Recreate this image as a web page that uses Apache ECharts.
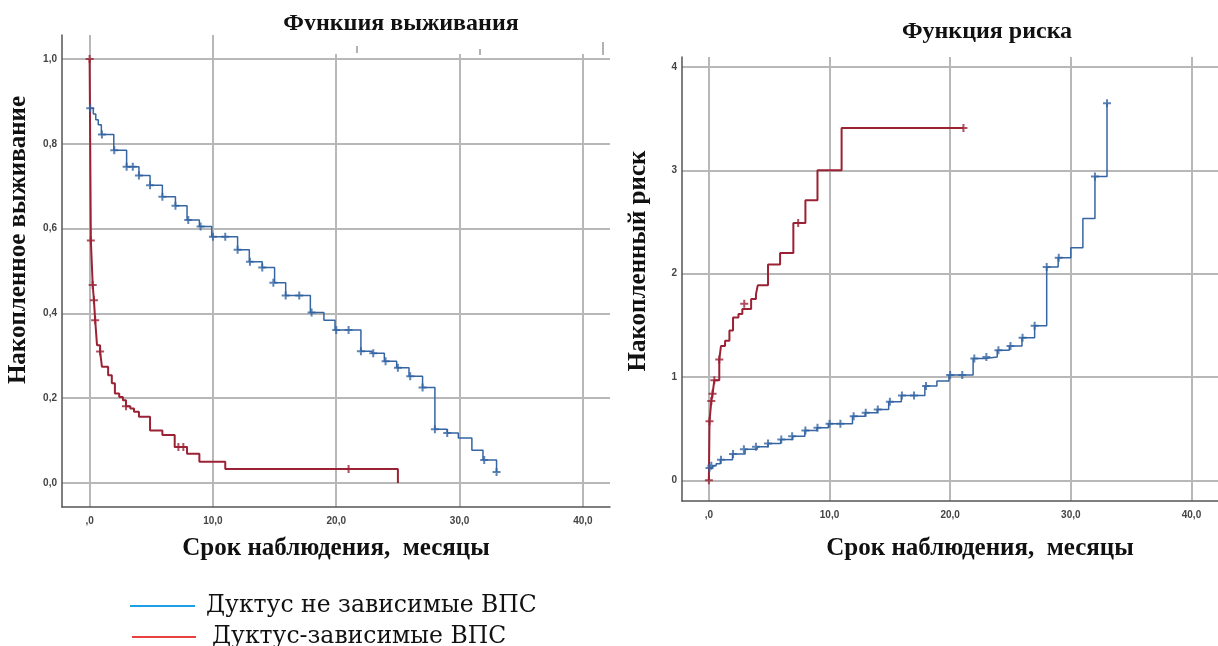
<!DOCTYPE html>
<html>
<head>
<meta charset="utf-8">
<script src="https://cdn.jsdelivr.net/npm/echarts@6/dist/echarts.min.js"></script>
<style>
html,body{margin:0;padding:0;background:#fff;}
#chart{width:1218px;height:646px;}
</style>
</head>
<body>
<div id="chart"></div>
<script>
// ---------- DATA ----------
const xTicks = [0, 10, 20, 30, 40];
const survYTicks = [0, 0.2, 0.4, 0.6, 0.8, 1.0];
const riskYTicks = [0, 1, 2, 3, 4];

const seriesNames = ['Дуктус не зависимые ВПС', 'Дуктус-зависимые ВПС'];

// Survival function: [month, cumulative survival]
const survBlue = [[0,0.884],[0.3,0.870],[0.5,0.857],[0.7,0.845],[0.95,0.822],[1.96,0.785],[3.0,0.746],[4.0,0.725],[4.9,0.702],[5.9,0.675],[6.96,0.654],[7.9,0.620],[8.9,0.605],[9.9,0.581],[12.0,0.550],[12.95,0.522],[14.0,0.508],[15.0,0.472],[15.9,0.442],[17.9,0.402],[19.0,0.384],[19.9,0.361],[22.0,0.311],[22.9,0.306],[23.9,0.287],[24.9,0.272],[25.9,0.252],[27.0,0.225],[28.0,0.127],[29.0,0.118],[29.9,0.106],[31.0,0.077],[31.9,0.054],[33.0,0.026]];
const survBlueCens = [[0.05,0.884],[1.0,0.822],[2.0,0.785],[3.0,0.746],[3.5,0.746],[4.0,0.725],[4.9,0.702],[5.9,0.675],[6.96,0.654],[8.0,0.620],[9.0,0.605],[10.0,0.581],[11.0,0.581],[12.0,0.550],[13.0,0.522],[14.0,0.508],[14.9,0.472],[15.9,0.442],[17.0,0.442],[18.0,0.402],[20.0,0.361],[21.0,0.361],[22.0,0.311],[23.0,0.306],[24.0,0.287],[25.0,0.272],[26.0,0.252],[27.0,0.225],[28.0,0.127],[29.0,0.118],[32.0,0.054],[33.0,0.026]];
const survRed = [[0,1.0],[0.1,0.572],[0.25,0.467],[0.35,0.431],[0.45,0.384],[0.6,0.325],[0.85,0.310],[1.0,0.274],[1.5,0.254],[1.8,0.235],[2.05,0.211],[2.4,0.203],[2.7,0.195],[2.95,0.181],[3.3,0.176],[3.6,0.168],[4.0,0.156],[4.9,0.124],[5.9,0.113],[6.9,0.085],[7.9,0.069],[8.9,0.050],[11.0,0.033],[25.0,0.0]];
const survRedCens = [[0,1.0],[0.1,0.572],[0.25,0.467],[0.35,0.431],[0.45,0.384],[0.85,0.310],[2.95,0.181],[7.2,0.085],[7.6,0.085],[21.0,0.033]];

// Hazard function: [month, cumulative hazard]
const riskBlue = [[0,0.12],[0.3,0.14],[0.6,0.16],[0.95,0.20],[1.96,0.256],[3.0,0.30],[4.0,0.324],[4.9,0.356],[5.95,0.395],[6.95,0.427],[7.95,0.482],[8.95,0.508],[9.9,0.547],[11.9,0.621],[12.95,0.654],[13.95,0.686],[14.9,0.761],[15.95,0.822],[17.9,0.913],[18.9,0.961],[19.9,1.019],[21.9,1.18],[22.9,1.194],[23.9,1.259],[24.9,1.30],[25.95,1.38],[27.0,1.495],[28.0,2.065],[28.95,2.155],[30.0,2.25],[31.0,2.534],[32.0,2.94],[33.0,3.65]];
const riskBlueCens = [[0.05,0.12],[0.2,0.14],[1.0,0.20],[2.0,0.256],[2.9,0.30],[3.9,0.324],[4.9,0.356],[6.0,0.395],[6.9,0.427],[8.0,0.482],[9.0,0.508],[10.0,0.547],[10.9,0.547],[12.0,0.621],[13.0,0.654],[14.0,0.686],[15.0,0.761],[16.0,0.822],[17.0,0.822],[18.0,0.913],[20.0,1.019],[21.0,1.019],[22.0,1.18],[23.0,1.194],[24.0,1.259],[25.0,1.30],[26.0,1.38],[27.0,1.495],[28.0,2.065],[29.0,2.155],[32.0,2.94],[33.0,3.65]];
const riskRed = [[0,0],[0.05,0.573],[0.2,0.767],[0.3,0.838],[0.45,0.968],[0.86,1.17],[1.0,1.30],[1.34,1.35],[1.7,1.45],[2.0,1.576],[2.45,1.61],[2.77,1.657],[3.5,1.754],[3.9,1.80],[4.05,1.887],[4.9,2.09],[5.9,2.20],[7.0,2.49],[8.0,2.71],[9.0,3.0],[11.0,3.41],[21.1,3.41]];
const riskRedCens = [[0,0],[0.05,0.573],[0.2,0.767],[0.3,0.838],[0.45,0.968],[0.86,1.17],[2.93,1.71],[7.4,2.49],[21.1,3.41]];

// ---------- STYLE ----------
const BLUE = '#3565a3';
const RED = '#9b2234';
const LEG_BLUE = '#1ea0e6';
const LEG_RED = '#e8403f';
const GRID_C = '#b8b8b8';
const AXIS_C = '#555';
const SERIF = '"Liberation Serif", "DejaVu Serif", serif';
const LEG_SERIF = '"DejaVu Serif", "Liberation Serif", serif';
const SANS = '"Liberation Sans", Arial, sans-serif';
const PLUS = 'path://M-1,-4H1V-1H4V1H1V4H-1V1H-4V-1H-1Z';

const fmtX = v => v === 0 ? ',0' : v.toFixed(1).replace('.', ',');
const fmtS = v => v.toFixed(1).replace('.', ',');
const fmtR = v => String(Math.round(v));

function xAxisDef(gridIndex, min, max, namePad) {
  return {
    type: 'value', gridIndex, min, max,
    name: 'Срок наблюдения,  месяцы', nameLocation: 'middle', nameGap: gridIndex === 0 ? 29 : 35,
    nameTextStyle: {fontFamily: SERIF, fontWeight: 'bold', fontSize: 25, color: '#111', padding: namePad},
    axisLine: {show: true, onZero: false, lineStyle: {color: AXIS_C, width: 1.5}},
    axisTick: {show: false, customValues: xTicks},
    axisLabel: {customValues: xTicks, formatter: fmtX, margin: 9, fontFamily: SANS, fontSize: 10, fontWeight: 'bold', color: '#444'},
    splitLine: {show: true, lineStyle: {color: GRID_C, width: 2}}
  };
}
function yAxisDef(gridIndex, min, max, ticks, fmt, name, gap, namePad) {
  return {
    type: 'value', gridIndex, min, max, name, nameLocation: 'middle', nameGap: gap, nameRotate: 90,
    nameTextStyle: {fontFamily: SERIF, fontWeight: 'bold', fontSize: 25, color: '#111', padding: namePad},
    axisLine: {show: true, onZero: false, lineStyle: {color: AXIS_C, width: 1.5}},
    axisTick: {show: false, customValues: ticks},
    axisLabel: {customValues: ticks, formatter: fmt, margin: 5, fontFamily: SANS, fontSize: 10, fontWeight: 'bold', color: '#444'},
    splitLine: {show: true, lineStyle: {color: GRID_C, width: 2}}
  };
}
function stepLine(name, data, color, width, xi, yi) {
  return {type: 'line', name, data, step: 'end', xAxisIndex: xi, yAxisIndex: yi, showSymbol: false,
    symbol: 'none', lineStyle: {color, width}, itemStyle: {color}, z: 3, silent: true};
}
function censMarks(name, data, color, xi, yi) {
  return {type: 'scatter', name, data, xAxisIndex: xi, yAxisIndex: yi, symbol: PLUS, symbolSize: 8,
    itemStyle: {color}, z: 4, silent: true};
}

const chart = echarts.init(document.getElementById('chart'), null, {renderer: 'canvas'});
chart.setOption({
  animation: false,
  backgroundColor: '#fff',
  title: [
    {text: 'Функция выживания', left: 396, top: 7, textAlign: 'center',
      textStyle: {fontFamily: SERIF, fontWeight: 'bold', fontSize: 24, color: '#111'}},
    {text: 'Функция риска', left: 982, top: 15, textAlign: 'center',
      textStyle: {fontFamily: SERIF, fontWeight: 'bold', fontSize: 24, color: '#111'}}
  ],
  legend: [
    {left: 125, top: 589, orient: 'vertical', icon: 'rect', itemWidth: 65, itemHeight: 2,
      data: [seriesNames[0]], selectedMode: false,
      textStyle: {fontFamily: LEG_SERIF, fontSize: 23.5, color: '#111', padding: [0, 0, 0, 6]}},
    {left: 127, top: 620, orient: 'vertical', icon: 'rect', itemWidth: 64, itemHeight: 2,
      data: [seriesNames[1]], selectedMode: false,
      textStyle: {fontFamily: LEG_SERIF, fontSize: 23.5, color: '#111', padding: [0, 0, 0, 11]}}
  ],
  grid: [
    {left: 62, top: 35, width: 548, height: 472},
    {left: 682, top: 57, width: 542, height: 444}
  ],
  xAxis: [xAxisDef(0, -2.24, 42.2, [0,0,0,0]), xAxisDef(1, -2.23, 42.2, [0,0,0,60])],
  yAxis: [
    yAxisDef(0, -0.0566, 1.0566, survYTicks, fmtS, 'Накопленное выживание', 31, [0,0,0,62]),
    yAxisDef(1, -0.2, 4.097, riskYTicks, fmtR, 'Накопленный риск', 31, [0,0,0,36])
  ],
  series: [
    stepLine('surv-1', survBlue, BLUE, 1.5, 0, 0),
    stepLine('surv-2', survRed, RED, 2, 0, 0),
    censMarks('surv-1-cens', survBlueCens, BLUE, 0, 0),
    censMarks('surv-2-cens', survRedCens, RED, 0, 0),
    stepLine('risk-1', riskBlue, BLUE, 1.5, 1, 1),
    stepLine('risk-2', riskRed, RED, 2, 1, 1),
    censMarks('risk-1-cens', riskBlueCens, BLUE, 1, 1),
    censMarks('risk-2-cens', riskRedCens, RED, 1, 1),
    // legend key entries (bright colours, as in the reference key)
    {type: 'line', name: seriesNames[0], data: [], xAxisIndex: 0, yAxisIndex: 0, itemStyle: {color: LEG_BLUE}, lineStyle: {color: LEG_BLUE}},
    {type: 'line', name: seriesNames[1], data: [], xAxisIndex: 0, yAxisIndex: 0, itemStyle: {color: LEG_RED}, lineStyle: {color: LEG_RED}}
  ],
  graphic: [
    {type: 'rect', shape: {x: 240, y: 30, width: 380, height: 24}, style: {fill: '#fff'}, z: 100, silent: true},
    {type: 'line', shape: {x1: 357, y1: 46, x2: 357, y2: 53}, style: {stroke: '#999', lineWidth: 1.5}, z: 101, silent: true},
    {type: 'line', shape: {x1: 480, y1: 49, x2: 480, y2: 55}, style: {stroke: '#999', lineWidth: 1.5}, z: 101, silent: true},
    {type: 'line', shape: {x1: 603, y1: 42, x2: 603, y2: 55}, style: {stroke: '#999', lineWidth: 1.5}, z: 101, silent: true}
  ]
});
</script>
</body>
</html>
